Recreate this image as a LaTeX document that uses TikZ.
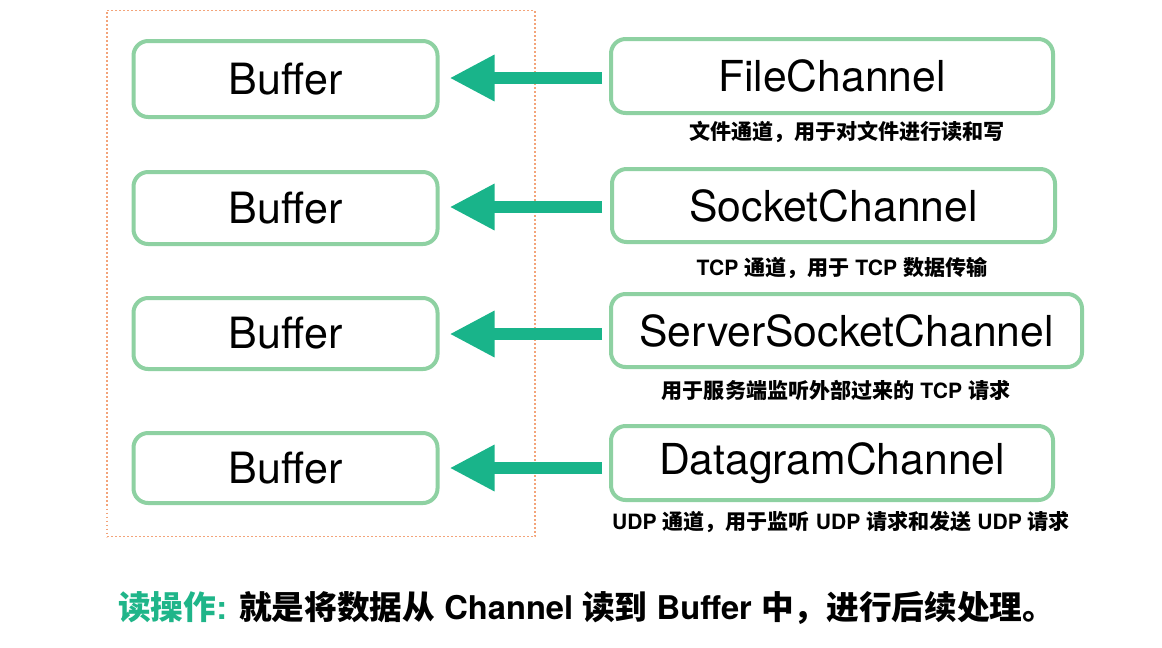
\documentclass[tikz,border=0pt]{standalone}
\usepackage{fontspec}
\setmainfont{TeX Gyre Heros}
\newfontfamily\cjk{Noto Sans CJK SC}
\usetikzlibrary{arrows.meta}
\definecolor{boxgreen}{HTML}{8ED1A2}
\definecolor{arrowgreen}{HTML}{19B48A}
\definecolor{dotorange}{HTML}{F3A47A}
\definecolor{textgreen}{HTML}{1FB589}
\newcommand\zh[1]{{\cjk\bfseries #1}}
\tikzset{
  bufbox/.style={draw=boxgreen, line width=3pt, rounded corners=11pt, fill=white,
    minimum width=228pt, inner sep=0pt, font=\fontsize{32.3}{36}\selectfont},
  chbox/.style={draw=boxgreen, line width=3pt, rounded corners=11pt, fill=white,
    inner sep=0pt, font=\fontsize{32}{36}\selectfont},
  desc/.style={font=\fontsize{15.8}{18}\selectfont\bfseries, inner sep=0pt},
  readarrow/.style={draw=arrowgreen, line width=9pt,
    -{Triangle[length=33.75pt, width=32.5pt]}, shorten >=7.5pt},
  frame/.style={draw=dotorange, line width=1.4pt, dash pattern=on 1.3pt off 1.7pt}
}
\begin{document}
\begin{tikzpicture}[x=0.75pt, y=-0.75pt]
\useasboundingbox (0,0) rectangle (1162,647);
\fill[white] (0,0) rectangle (1162,647);
\node[frame, draw, minimum width=321pt, minimum height=394.5pt, inner sep=0pt] (frm) at (321,273.5) {};
% buffers
\node[bufbox, minimum height=57pt] (b1) at (285.5,79) {Buffer};
\node[bufbox, minimum height=54pt] (b2) at (285.5,208) {Buffer};
\node[bufbox, minimum height=53.25pt] (b3) at (285.5,333.5) {Buffer};
\node[bufbox, minimum height=52.5pt] (b4) at (285.5,468) {Buffer};
% channels
\node[chbox, minimum width=331.5pt, minimum height=55.5pt] (c1) at (832,76) {FileChannel};
\node[chbox, minimum width=332.25pt, minimum height=54.75pt] (c2) at (833.5,205.5) {SocketChannel};
\node[chbox, minimum width=353.25pt, minimum height=54.75pt] (c3) at (846.5,330.5) {ServerSocketChannel};
\node[chbox, minimum width=331.5pt, minimum height=55.5pt] (c4) at (832,463) {DatagramChannel};
% descriptions
\node[desc] (d1) at (847,132) {\zh{文件通道，用于对文件进行读和写}};
\node[desc] (d2) at (842,268) {TCP \zh{通道，用于} TCP \zh{数据传输}};
\node[desc] (d3) at (836,390) {\zh{用于服务端监听外部过来的} TCP \zh{请求}};
\node[desc] (d4) at (841,522) {UDP \zh{通道，用于监听} UDP \zh{请求和发送} UDP \zh{请求}};
% arrows
\coordinate (s1) at (602,78);
\coordinate (s2) at (602,207);
\coordinate (s3) at (602,334);
\coordinate (s4) at (602,468);
\draw[readarrow] (s1) -- (s1 -| b1.east);
\draw[readarrow] (s2) -- (s2 -| b2.east);
\draw[readarrow] (s3) -- (s3 -| b3.east);
\draw[readarrow] (s4) -- (s4 -| b4.east);
% bottom note
\node[anchor=west, inner sep=0pt, font=\fontsize{24.5}{28}\selectfont\bfseries] (note) at (118,608)
  {\textcolor{textgreen}{\zh{读操作}:} \zh{就是将数据从} Channel \zh{读到} Buffer \zh{中，进行后续处理。}};
\end{tikzpicture}
\end{document}
